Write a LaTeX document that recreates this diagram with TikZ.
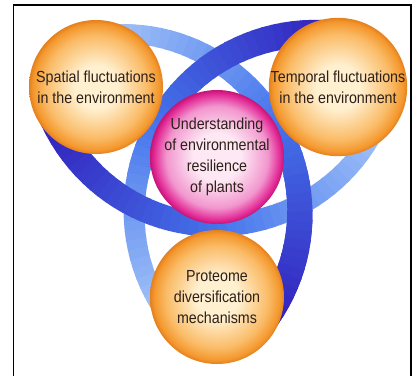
\documentclass[tikz,border=0pt]{standalone}
\usepackage{fontspec}
\newfontfamily\labelfont{Liberation Sans}[FakeStretch=0.89]
\usetikzlibrary{calc}

\definecolor{ribdark}{RGB}{48,28,185}
\definecolor{ribmid}{RGB}{70,118,236}
\definecolor{riblight}{RGB}{178,208,250}
\definecolor{orbcore}{RGB}{255,240,208}
\definecolor{orbmid}{RGB}{250,188,104}
\definecolor{orbedge}{RGB}{244,152,46}
\definecolor{orbrim}{RGB}{228,128,30}
\definecolor{hubcore}{RGB}{253,232,244}
\definecolor{hubmid}{RGB}{242,150,206}
\definecolor{hubedge}{RGB}{226,42,150}
\definecolor{hubrim}{RGB}{196,20,118}
\definecolor{labeltext}{RGB}{45,32,25}

\pgfdeclareradialshading{orbball}{\pgfpoint{0bp}{0bp}}{color(0bp)=(orbcore); color(8bp)=(orbcore); color(19bp)=(orbmid); color(23.5bp)=(orbedge); color(25bp)=(orbrim); color(50bp)=(orbrim)}
\pgfdeclareradialshading{hubball}{\pgfpoint{0bp}{0bp}}{color(0bp)=(hubcore); color(9bp)=(hubcore); color(19bp)=(hubmid); color(23.5bp)=(hubedge); color(25bp)=(hubrim); color(50bp)=(hubrim)}

\newcommand\nseg{48}
\newcommand\wdark{28}
\newcommand\wlight{18}
% #1 centre, #2 radius, #3 dark end angle, #4 light end angle, #5-#6 pieces to draw
\newcommand{\ribbon}[6]{%
  \foreach \k in {#5,...,#6}{%
    \pgfmathsetmacro{\ta}{#3+(#4-#3)*\k/\nseg}%
    \pgfmathsetmacro{\tb}{#3+(#4-#3)*(\k+1.15)/\nseg}%
    \pgfmathsetmacro{\wid}{\wdark-(\wdark-\wlight)*\k/\nseg}%
    \pgfmathtruncatemacro{\mix}{200*\k/\nseg}%
    \ifnum\mix<100 \colorlet{rib}{ribmid!\mix!ribdark}%
    \else\pgfmathtruncatemacro{\mixb}{\mix-100}\colorlet{rib}{riblight!\mixb!ribmid}\fi
    \draw[rib, line width=\wid pt] (#1) ++(\ta:#2) arc[start angle=\ta, end angle=\tb, radius=#2];
  }%
}

\begin{document}
\begin{tikzpicture}[x=1pt,y=-1pt,
    orb/.style={circle, minimum size=134pt, inner sep=0pt, shade, shading=orbball,
      align=center, text=labeltext, font=\labelfont\fontsize{16}{21}\selectfont},
    hub/.style={orb, shading=hubball}]
  \useasboundingbox (0,0) rectangle (412,376);

  % frame
  \draw[line width=1.2pt] (13.5,376) -- (13.5,5) -- (411,5) -- (411,376);

  % centres of the three ribbons
  \coordinate (mid) at (217,157);
  \path (mid) ++(270:111) coordinate (ca);
  \path (mid) ++(30:111) coordinate (cb);
  \path (mid) ++(150:111) coordinate (cc);

  % ribbons, then the dark part of the right one again on top
  \ribbon{cc}{179}{41.3}{-101.3}{0}{47}
  \ribbon{cb}{179}{281.3}{138.7}{0}{47}
  \ribbon{ca}{179}{161.3}{18.7}{0}{47}
  \ribbon{cc}{179}{41.3}{-101.3}{0}{20}

  \node[orb] (spatial) at (96,87) {Spatial fluctuations\\in the environment};
  \node[orb] (temporal) at (338,87) {Temporal fluctuations\\in the environment};
  \node[orb] (proteome) at (217,297) {Proteome\\diversification\\mechanisms};
  \node[hub] (resilience) at (mid) {Understanding\\of environmental\\resilience\\of plants};
\end{tikzpicture}
\end{document}
